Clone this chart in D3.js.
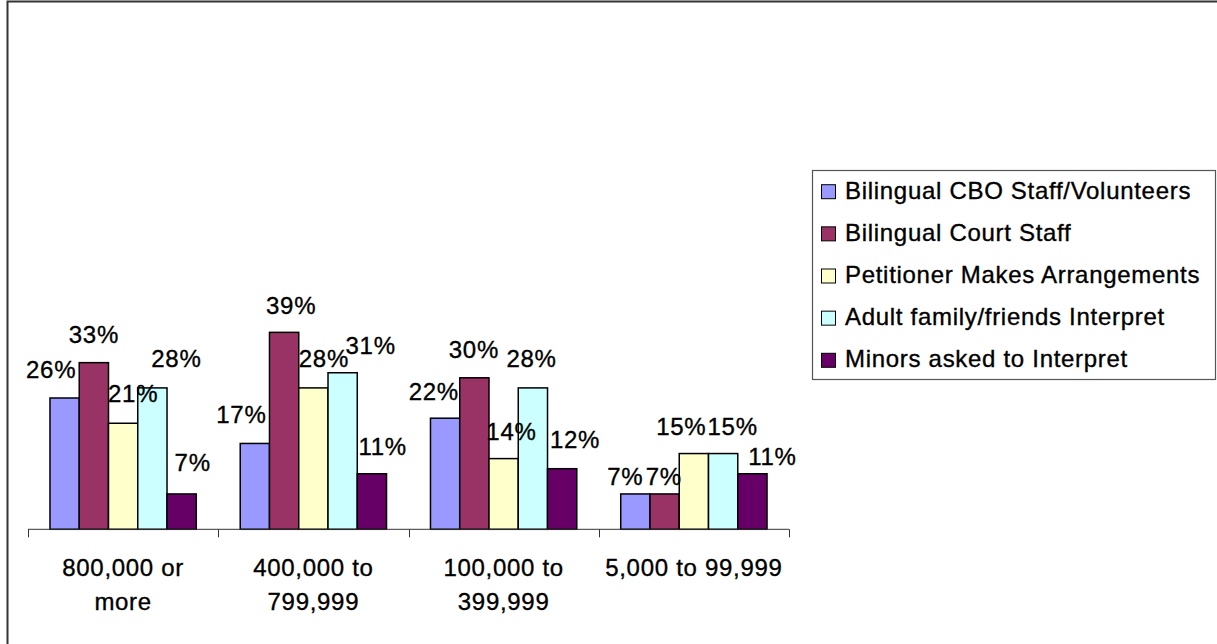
<!DOCTYPE html>
<html>
<head>
<meta charset="utf-8">
<script src="https://cdn.jsdelivr.net/npm/d3@7/dist/d3.min.js"></script>
<style>
  html, body { margin: 0; padding: 0; background: #fff; }
  svg { display: block; }
  text { font-family: "Liberation Sans", Arial, sans-serif; fill: #000; stroke: #000; stroke-width: 0.35px; }
</style>
</head>
<body>
<svg id="chart" width="1217" height="644"></svg>
<script>
// Population size of county (category axis), line breaks as shown
const categories = ["800,000 or\nmore", "400,000 to\n799,999", "100,000 to\n399,999", "5,000 to 99,999"];

const seriesNames = [
  "Bilingual CBO Staff/Volunteers",
  "Bilingual Court Staff",
  "Petitioner Makes Arrangements",
  "Adult family/friends Interpret",
  "Minors asked to Interpret"
];

// Percent of respondents, one array per series, in category order
const cboStaff    = [26, 17, 22, 7];
const courtStaff  = [33, 39, 30, 7];
const petitioner  = [21, 28, 14, 15];
const adultFamily = [28, 31, 28, 15];
const minors      = [7, 11, 12, 11];

const seriesValues = [cboStaff, courtStaff, petitioner, adultFamily, minors];
const seriesColors = ["#9999FF", "#993366", "#FFFFCC", "#CCFFFF", "#660066"];

// Hand-placed data label offsets [dx, dy] per series, per category
const labelNudge = [
  [[-13.5, 0], [-13.5, 0], [-11.3, 2], [-10, 10.7]],
  [[0, 0], [7, 2], [-0.5, 0], [-0.8, 10.7]],
  [[10, -1], [10.5, -1], [7.8, 1], [-12.6, 1]],
  [[24, -1], [28, 1], [-1.4, -1], [9.5, 1]],
  [[11, -3], [10.7, 1], [12.8, -1], [20, 11]]
];

const svg = d3.select("#chart");
const FONT = 24;
const LS = "0.7px";

// Outer chart frame
svg.append("rect")
  .attr("x", 7.5).attr("y", 1.5)
  .attr("width", 1230).attr("height", 660)
  .attr("fill", "none").attr("stroke", "#333").attr("stroke-width", 2);

// Scales
const plotLeft = 28, plotRight = 789, baseY = 529.3;
const x0 = d3.scaleBand().domain(categories).range([plotLeft, plotRight]).padding(0);
const bw = x0.bandwidth();
const gap = bw * 0.1155;
const x1 = d3.scaleBand().domain(d3.range(seriesNames.length)).range([gap, bw - gap]).padding(0);
const y = d3.scaleLinear().domain([0, 40]).range([baseY, baseY - 40 * 5.05]);

// Flatten to one record per bar
const bars = [];
seriesValues.forEach((vals, s) => {
  vals.forEach((v, c) => bars.push({ s, c, cat: categories[c], v }));
});

const g = svg.append("g");

g.selectAll("rect.bar")
  .data(bars)
  .join("rect")
  .attr("class", "bar")
  .attr("x", d => x0(d.cat) + x1(d.s))
  .attr("y", d => y(d.v))
  .attr("width", x1.bandwidth())
  .attr("height", d => y(0) - y(d.v))
  .attr("fill", d => seriesColors[d.s])
  .attr("stroke", "#000")
  .attr("stroke-width", 1.5);

// Category axis: baseline with ticks at the category boundaries
const axis = svg.append("g");
axis.append("line")
  .attr("x1", plotLeft).attr("x2", plotRight)
  .attr("y1", baseY).attr("y2", baseY)
  .attr("stroke", "#333").attr("stroke-width", 1);

const bounds = categories.map(c => x0(c)).concat([x0.range()[1]]);
axis.selectAll("line.tick")
  .data(bounds)
  .join("line")
  .attr("class", "tick")
  .attr("x1", d => Math.round(d) + 0.5).attr("x2", d => Math.round(d) + 0.5)
  .attr("y1", baseY).attr("y2", baseY + 8)
  .attr("stroke", "#333").attr("stroke-width", 1);

axis.selectAll("text.cat")
  .data(categories)
  .join("text")
  .attr("class", "cat")
  .attr("text-anchor", "middle")
  .attr("font-size", FONT)
  .style("letter-spacing", LS)
  .attr("y", 576)
  .each(function(d) {
    const t = d3.select(this);
    const cx = x0(d) + bw / 2;
    d.split("\n").forEach((line, i) => {
      t.append("tspan").attr("x", cx).attr("dy", i === 0 ? 0 : 34).text(line);
    });
  });

// Data labels
g.selectAll("text.lbl")
  .data(bars)
  .join("text")
  .attr("class", "lbl")
  .attr("text-anchor", "middle")
  .attr("font-size", FONT)
  .style("letter-spacing", LS)
  .attr("x", d => x0(d.cat) + x1(d.s) + x1.bandwidth() / 2 + labelNudge[d.s][d.c][0])
  .attr("y", d => y(d.v) - 20 + labelNudge[d.s][d.c][1])
  .text(d => d.v + "%");

// Legend
const legend = svg.append("g");
legend.append("rect")
  .attr("x", 812.5).attr("y", 170.5)
  .attr("width", 403).attr("height", 209)
  .attr("fill", "#fff").attr("stroke", "#555").attr("stroke-width", 1.2);

const items = legend.selectAll("g.item")
  .data(seriesNames)
  .join("g")
  .attr("class", "item")
  .attr("transform", (d, i) => `translate(0, ${198.7 + i * 42.15})`);

items.append("rect")
  .attr("x", 821.5).attr("y", -14)
  .attr("width", 14).attr("height", 14)
  .attr("fill", (d, i) => seriesColors[i])
  .attr("stroke", "#000").attr("stroke-width", 1);

items.append("text")
  .attr("x", 845)
  .attr("y", 0)
  .attr("font-size", FONT)
  .style("letter-spacing", LS)
  .text(d => d);
</script>
</body>
</html>
